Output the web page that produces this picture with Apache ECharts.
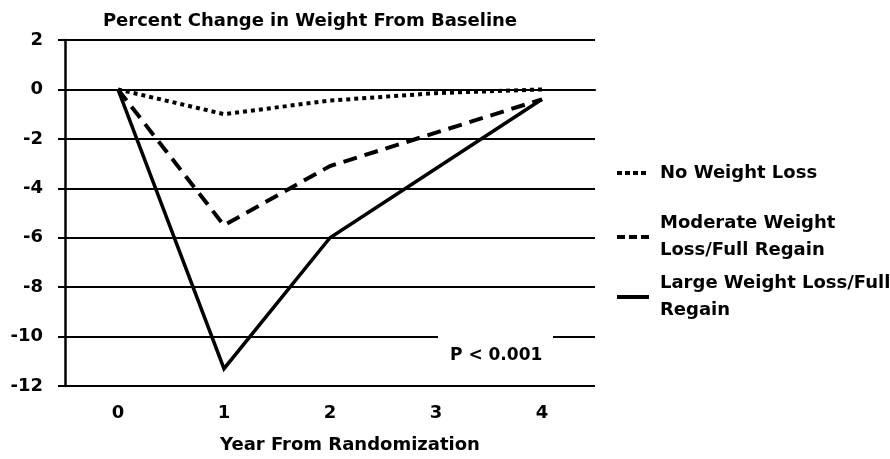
<!DOCTYPE html>
<html>
<head>
<meta charset="utf-8">
<script src="https://cdn.jsdelivr.net/npm/echarts@6/dist/echarts.min.js"></script>
<style>
  html, body { margin: 0; padding: 0; background: #fff; }
  #chart { width: 890px; height: 459px; }
</style>
</head>
<body>
<div id="chart"></div>
<script>
// Years since randomization (category axis)
const years = ['0', '1', '2', '3', '4'];

// Percent change in weight from baseline, per group
const noLoss   = [0, -1.0, -0.45, -0.15, 0];
const moderate = [0, -5.5, -3.1, -1.75, -0.4];
const large    = [0, -11.3, -6.0, -3.2, -0.4];

const seriesNames = [
  'No Weight Loss',
  'Moderate Weight Loss/Full Regain',
  'Large Weight Loss/Full Regain'
];
const legendLabels = [
  'No Weight Loss',
  'Moderate Weight\nLoss/Full Regain',
  'Large Weight Loss/Full\nRegain'
];

const FONT = 'DejaVu Sans';
const txt = { fontFamily: FONT, fontWeight: 'bold', fontSize: 18, color: '#000' };

const chart = echarts.init(document.getElementById('chart'), null, { renderer: 'canvas' });

// One legend per entry so the key line sits beside the first text line
function legendFor(i, top, twoLines, dash) {
  return {
    data: [{ name: seriesNames[i] }],
    left: 615,
    top: top,
    padding: 0,
    orient: 'vertical',
    itemWidth: 32,
    itemHeight: 14,
    selectedMode: false,
    itemStyle: { opacity: 0 },
    lineStyle: { width: 4, color: '#000', type: dash, cap: 'butt' },
    formatter: () => legendLabels[i],
    textStyle: Object.assign({}, txt, {
      lineHeight: 27,
      padding: twoLines ? [27, 0, 0, 6] : [0, 0, 0, 6]
    })
  };
}

const lineBase = { color: '#000', cap: 'butt', join: 'miter' };

chart.setOption({
  animation: false,
  backgroundColor: '#fff',
  color: ['#000', '#000', '#000'],
  title: {
    text: 'Percent Change in Weight From Baseline',
    left: 310,
    textAlign: 'center',
    top: 12,
    padding: 0,
    textStyle: txt
  },
  grid: { left: 65, right: 295, top: 40, bottom: 70, containLabel: false },
  legend: [
    legendFor(0, 159.5, false, [5, 3]),
    legendFor(1, 196.5, true, [8, 4]),
    legendFor(2, 256.5, true, 'solid')
  ],
  xAxis: {
    type: 'category',
    data: years,
    boundaryGap: true,
    name: 'Year From Randomization',
    nameLocation: 'middle',
    nameGap: 50,
    nameTextStyle: Object.assign({}, txt, { padding: [0, 0, 0, 40] }),
    axisLine: { show: true, lineStyle: { color: '#000', width: 2 } },
    axisTick: { show: false },
    axisLabel: Object.assign({ margin: 18 }, txt),
    splitLine: { show: false }
  },
  yAxis: {
    type: 'value',
    min: -12,
    max: 2,
    interval: 2,
    axisLine: { show: true, lineStyle: { color: '#000', width: 2.5 } },
    axisTick: { show: true, length: 7, lineStyle: { color: '#000', width: 2 } },
    axisLabel: Object.assign({ margin: 22 }, txt),
    splitLine: { show: true, lineStyle: { color: '#000', width: 2 } }
  },
  series: [
    {
      name: seriesNames[0],
      type: 'line',
      data: noLoss,
      symbol: 'none',
      z: 3,
      itemStyle: { color: '#000' },
      lineStyle: Object.assign({}, lineBase, { width: 4, type: [4, 4] })
    },
    {
      name: seriesNames[1],
      type: 'line',
      data: moderate,
      symbol: 'none',
      z: 4,
      itemStyle: { color: '#000' },
      lineStyle: Object.assign({}, lineBase, { width: 4, type: [14, 8] })
    },
    {
      name: seriesNames[2],
      type: 'line',
      data: large,
      symbol: 'none',
      z: 5,
      itemStyle: { color: '#000' },
      lineStyle: Object.assign({}, lineBase, { width: 3.5 })
    }
  ],
  graphic: [
    {
      // white panel that breaks the -10 gridline behind the p-value note
      type: 'rect',
      left: 438,
      top: 330,
      z: 100,
      shape: { width: 115, height: 48 },
      style: { fill: '#fff' }
    },
    {
      type: 'text',
      left: 450,
      top: 347,
      z: 101,
      style: {
        text: 'P < 0.001',
        fill: '#000',
        font: 'bold 17px "DejaVu Sans"'
      }
    }
  ]
});
</script>
</body>
</html>
